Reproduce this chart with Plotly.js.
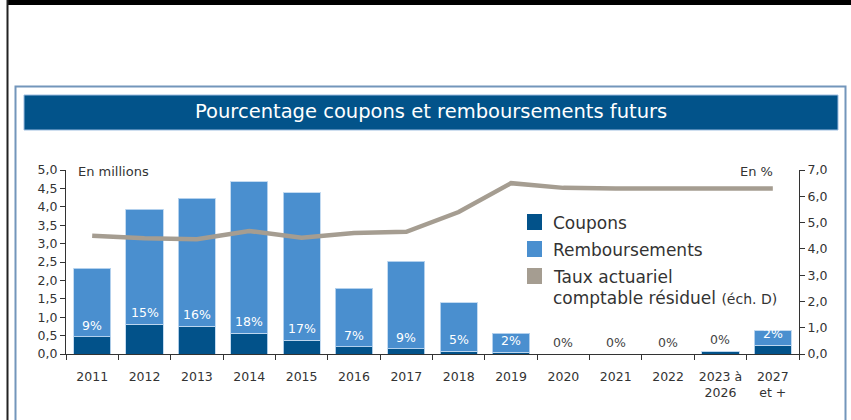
<!DOCTYPE html>
<html>
<head>
<meta charset="utf-8">
<script src="https://cdn.plot.ly/plotly-3.0.1.min.js"></script>
<style>html,body{margin:0;padding:0;background:#fff;}#chart{width:851px;height:420px;}</style>
</head>
<body>
<div id="chart"></div>
<script>
// ---- data ----
var categories = ['2011','2012','2013','2014','2015','2016','2017','2018','2019','2020','2021','2022','2023 à<br>2026','2027<br>et +'];
var coupons = [0.47, 0.81, 0.75, 0.57, 0.38, 0.20, 0.14, 0.08, 0.05, 0, 0, 0, 0.08, 0.24];
var remboursements = [1.86, 3.13, 3.48, 4.11, 4.00, 1.59, 2.38, 1.31, 0.52, 0, 0, 0, 0, 0.39];
var tauxActuariel = [4.50, 4.40, 4.37, 4.68, 4.42, 4.60, 4.65, 5.40, 6.50, 6.32, 6.30, 6.30, 6.30, 6.30];
var pctLabels = ['9%','15%','16%','18%','17%','7%','9%','5%','2%','0%','0%','0%','0%','2%'];
var leftTicksMax = 5, rightTicksMax = 7;

// ---- styles ----
var FONT = 'DejaVu Sans, Noto Sans, sans-serif';
var C_COUP = '#02528a', C_REMB = '#4a8fcf', C_TAUX = '#a59d91', TXT = '#333333';
var W = 851, H = 420, ML = 66, MR = 52, MT = 170, MB = 66;
var PW = W - ML - MR, PH = H - MT - MB;
function px(x){ return (x - ML) / PW; }
function py(y){ return (H - MB - y) / PH; }

var traces = [
  {type:'bar', x:categories, y:coupons, name:'Coupons', marker:{color:C_COUP, line:{color:'rgba(190,215,240,0.9)', width:1}}, hoverinfo:'skip'},
  {type:'bar', x:categories, y:remboursements, name:'Remboursements', marker:{color:C_REMB, line:{color:'rgba(190,215,240,0.9)', width:1}}, hoverinfo:'skip'},
  {type:'scatter', mode:'lines', x:categories, y:tauxActuariel, yaxis:'y2', name:'Taux actuariel', line:{color:C_TAUX, width:4.5}, hoverinfo:'skip'}
];

var annotations = [];
for (var i = 0; i < categories.length; i++) {
  annotations.push({
    x: i, y: coupons[i], xref:'x', yref:'y', yanchor:'bottom', yshift:2,
    text: pctLabels[i], showarrow:false,
    font:{family:FONT, size:12.5, color: remboursements[i] > 0 ? '#ffffff' : '#444444'}
  });
}
annotations.push(
  {xref:'paper', yref:'paper', x:px(431), y:py(112), xanchor:'center', yanchor:'middle', showarrow:false,
   text:'Pourcentage coupons et remboursements futurs', font:{family:FONT, size:19.5, color:'#ffffff'}},
  {xref:'paper', yref:'paper', x:px(76), y:py(171.5), xanchor:'left', yanchor:'middle', showarrow:false,
   text:'En millions', font:{family:FONT, size:13, color:TXT}},
  {xref:'paper', yref:'paper', x:px(775), y:py(171.5), xanchor:'right', yanchor:'middle', showarrow:false,
   text:'En %', font:{family:FONT, size:13, color:TXT}},
  {xref:'paper', yref:'paper', x:px(551), y:py(222.5), xanchor:'left', yanchor:'middle', showarrow:false,
   text:'Coupons', font:{family:FONT, size:17, color:TXT}},
  {xref:'paper', yref:'paper', x:px(551), y:py(249.5), xanchor:'left', yanchor:'middle', showarrow:false,
   text:'Remboursements', font:{family:FONT, size:17, color:TXT}},
  {xref:'paper', yref:'paper', x:px(551), y:py(276.5), xanchor:'left', yanchor:'middle', showarrow:false,
   text:'Taux actuariel', font:{family:FONT, size:17, color:TXT}},
  {xref:'paper', yref:'paper', x:px(551), y:py(297.5), xanchor:'left', yanchor:'middle', showarrow:false,
   text:'comptable résiduel <span style="font-size:14px">(éch. D)</span>', font:{family:FONT, size:17, color:TXT}}
);

function rect(x0, y0, x1, y1, fill, lineColor, lineWidth) {
  return {type:'rect', xref:'paper', yref:'paper', x0:px(x0), x1:px(x1), y0:py(y0), y1:py(y1), layer:'above',
          fillcolor: fill || 'rgba(0,0,0,0)', line:{color: lineColor || 'rgba(0,0,0,0)', width: lineWidth || 0}};
}
var shapes = [
  rect(7, 0, 851, 5, '#000000'),
  rect(6.5, 0, 8.5, 420, '#222222'),
  rect(15.5, 86.5, 845.5, 430, null, '#7396bb', 2),
  rect(24, 95, 838, 130, '#02538a', '#9dbde0', 1),
  rect(527, 214, 542, 230, C_COUP),
  rect(527, 241, 542, 257, C_REMB),
  rect(527, 268, 542, 284, C_TAUX)
];

var layout = {
  width:W, height:H,
  margin:{l:ML, r:MR, t:MT, b:MB, pad:0},
  paper_bgcolor:'#ffffff', plot_bgcolor:'#ffffff',
  separators:', ',
  showlegend:false,
  barmode:'stack', bargap:0.29,
  font:{family:FONT, color:TXT},
  xaxis:{type:'category', range:[-0.5, categories.length - 0.5], autorange:false, tickson:'boundaries', ticks:'outside', ticklen:5, tickcolor:'#333', tickwidth:1,
         ticklabelstandoff:11, showline:true, linecolor:'#333', linewidth:1, showgrid:false, zeroline:false, tickangle:0,
         tickfont:{family:FONT, size:12.5, color:TXT}, fixedrange:true},
  yaxis:{range:[0, leftTicksMax], autorange:false, dtick:0.5, tick0:0, tickformat:'.1f', ticks:'outside', ticklen:5, tickcolor:'#333',
         showline:true, linecolor:'#333', linewidth:1, showgrid:false, zeroline:false,
         tickfont:{family:FONT, size:12.5, color:TXT}, fixedrange:true},
  yaxis2:{range:[0, rightTicksMax], autorange:false, dtick:1, tick0:0, tickformat:'.1f', overlaying:'y', side:'right',
          ticks:'outside', ticklen:5, tickcolor:'#333', showline:true, linecolor:'#333', linewidth:1,
          showgrid:false, zeroline:false, tickfont:{family:FONT, size:12.5, color:TXT}, fixedrange:true},
  annotations:annotations,
  shapes:shapes
};

Plotly.newPlot('chart', traces, layout, {staticPlot:true, displayModeBar:false});
</script>
</body>
</html>
